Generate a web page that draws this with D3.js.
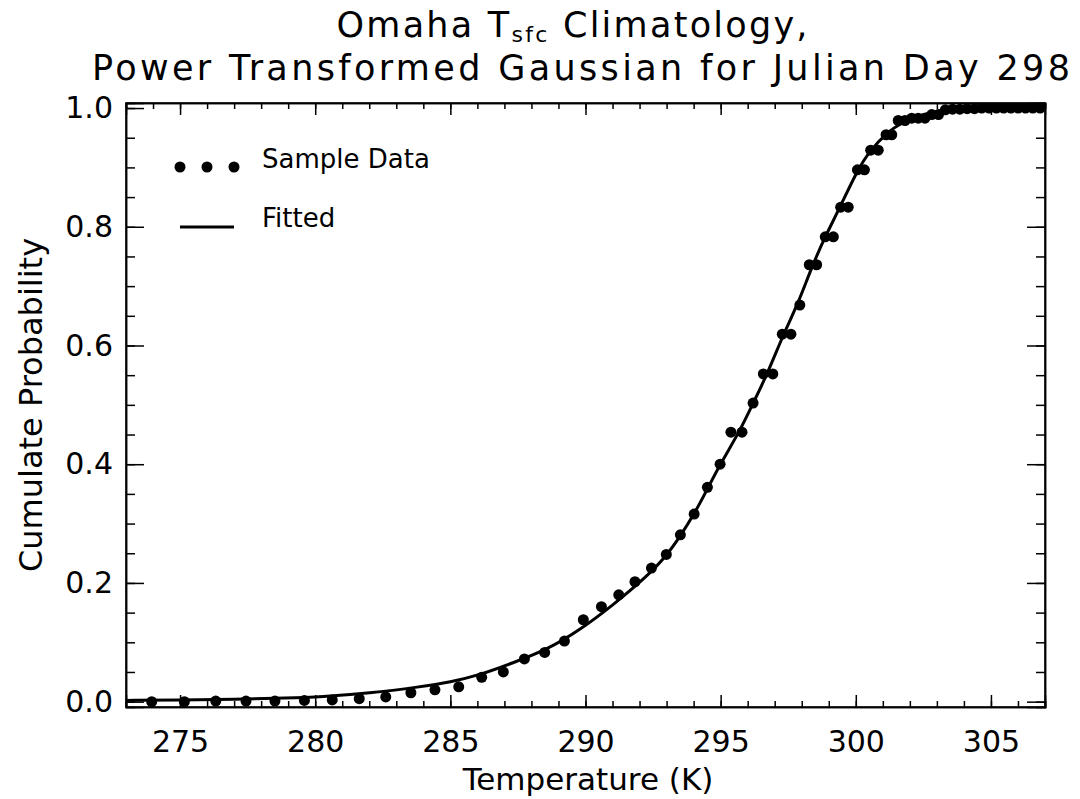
<!DOCTYPE html>
<html>
<head>
<meta charset="utf-8">
<script src="https://cdn.jsdelivr.net/npm/d3@7"></script>
<style>
  body { margin: 0; background: #fff; }
  svg { display: block; }
  text { font-family: "DejaVu Sans", sans-serif; fill: #000; }
  .tick line, .domain { stroke: #000; stroke-width: 1.5; }
</style>
</head>
<body>
<svg width="1080" height="799"></svg>
<script>
// sample data (temperature K, cumulative probability)
const sampleTemp = [273.95, 275.16, 276.32, 277.44, 278.51, 279.60, 280.63, 281.63, 282.61, 283.54,
  284.43, 285.31, 286.16, 286.96, 287.74, 288.49, 289.22, 289.92, 290.59, 291.23,
  291.83, 292.44, 292.99, 293.51, 294.02, 294.51, 294.98, 295.38, 295.79, 296.20,
  296.58, 296.93, 297.28, 297.60, 297.93, 298.28, 298.55, 298.87, 299.17, 299.44,
  299.72, 300.06, 300.32, 300.55, 300.83, 301.12, 301.33, 301.57, 301.82, 302.07,
  302.31, 302.56, 302.81, 303.06, 303.31, 303.58, 303.85, 304.12, 304.39, 304.66,
  304.93, 305.20, 305.47, 305.74, 306.01, 306.28, 306.55, 306.82];
const sampleProb = [0.000, 0.000, 0.001, 0.001, 0.001, 0.002, 0.003, 0.005, 0.008, 0.015,
  0.020, 0.025, 0.041, 0.050, 0.072, 0.083, 0.102, 0.138, 0.160, 0.180,
  0.202, 0.225, 0.248, 0.281, 0.316, 0.361, 0.400, 0.454, 0.454, 0.503,
  0.552, 0.552, 0.619, 0.619, 0.668, 0.736, 0.736, 0.783, 0.783, 0.833,
  0.833, 0.896, 0.896, 0.929, 0.929, 0.955, 0.955, 0.979, 0.979, 0.983,
  0.983, 0.983, 0.989, 0.989, 0.997, 0.998, 0.998, 0.999, 0.999, 1.000,
  1.000, 1.000, 1.000, 1.000, 1.000, 1.000, 1.000, 1.000];

// fitted curve
const fitTemp = [273.0, 275.0, 277.0, 279.0, 280.2, 282.0, 283.9, 285.0, 286.1, 287.3,
  288.6, 289.8, 291.0, 292.3, 293.0, 293.51, 294.02, 294.51, 294.98, 295.69,
  296.2, 296.73, 297.32, 297.84, 298.37, 298.86, 299.42, 300.03, 300.53, 301.2,
  301.64, 302.38, 303.12, 304.0, 305.0, 307.0];
const fitProb = [0.002, 0.003, 0.004, 0.006, 0.008, 0.014, 0.025, 0.033, 0.045, 0.065,
  0.088, 0.121, 0.162, 0.212, 0.246, 0.279, 0.316, 0.358, 0.400, 0.454,
  0.503, 0.552, 0.619, 0.668, 0.732, 0.783, 0.833, 0.893, 0.929, 0.960,
  0.974, 0.988, 0.996, 0.999, 1.000, 1.000];

const xMajor = [275, 280, 285, 290, 295, 300, 305];
const xMinor = d3.range(273, 308, 1);
const yMajor = [0.0, 0.2, 0.4, 0.6, 0.8, 1.0];
const yMinor = d3.range(0, 1.001, 0.05);

const svg = d3.select("svg");
const plotLeft = 126, plotRight = 1045, plotTop = 103, plotBottom = 707;
const width = plotRight - plotLeft, height = plotBottom - plotTop;

const x = d3.scaleLinear().domain([273, 307]).range([0, width]);
const y = d3.scaleLinear().domain([-0.009, 1.0085]).range([height, 0]);

svg.append("rect").attr("width", 1080).attr("height", 799).attr("fill", "#fff");

const g = svg.append("g").attr("transform", `translate(${plotLeft},${plotTop})`);

g.append("clipPath").attr("id", "clip")
  .append("rect").attr("width", width).attr("height", height);

// minor ticks on all four sides
g.append("g").attr("transform", `translate(0,${height})`)
  .call(d3.axisBottom(x).tickValues(xMinor).tickSize(-6).tickFormat(""));
g.append("g")
  .call(d3.axisTop(x).tickValues(xMinor).tickSize(-6).tickFormat(""));
g.append("g")
  .call(d3.axisLeft(y).tickValues(yMinor).tickSize(-9).tickFormat(""));
g.append("g").attr("transform", `translate(${width},0)`)
  .call(d3.axisRight(y).tickValues(yMinor).tickSize(-9).tickFormat(""));

// major ticks
g.append("g").attr("class", "x-axis").attr("transform", `translate(0,${height})`)
  .call(d3.axisBottom(x).tickValues(xMajor).tickSize(-12).tickPadding(24).tickFormat(d3.format("d")));
g.append("g")
  .call(d3.axisTop(x).tickValues(xMajor).tickSize(-12).tickFormat(""));
g.append("g").attr("class", "y-axis")
  .call(d3.axisLeft(y).tickValues(yMajor).tickSize(-18).tickPadding(13).tickFormat(d3.format(".1f")));
g.append("g").attr("transform", `translate(${width},0)`)
  .call(d3.axisRight(y).tickValues(yMajor).tickSize(-18).tickFormat(""));

g.selectAll(".x-axis text, .y-axis text")
  .style("font-size", "30px").style("font-family", "DejaVu Sans");

// frame
g.append("rect").attr("width", width).attr("height", height)
  .attr("fill", "none").attr("stroke", "#000").attr("stroke-width", 1.5);

const plot = g.append("g").attr("clip-path", "url(#clip)");

// Fitted curve
const fitPts = fitTemp.map((t, i) => [t, fitProb[i]]);
plot.append("path")
  .datum(fitPts)
  .attr("fill", "none")
  .attr("stroke", "#000")
  .attr("stroke-width", 3)
  .attr("d", d3.line().x(d => x(d[0])).y(d => y(d[1])).curve(d3.curveBasis));

// Sample points
plot.selectAll(".dot")
  .data(sampleTemp.map((t, i) => [t, sampleProb[i]]))
  .enter().append("circle")
  .attr("class", "dot")
  .attr("cx", d => x(d[0]))
  .attr("cy", d => y(d[1]))
  .attr("r", 5.5)
  .attr("fill", "#000");

// Legend
const legend = svg.append("g");
legend.selectAll("circle")
  .data([180, 207, 234])
  .enter().append("circle")
  .attr("cx", d => d).attr("cy", 167).attr("r", 5.5).attr("fill", "#000");
legend.append("text").attr("x", 262).attr("y", 168)
  .style("font-size", "26px").text("Sample Data");
legend.append("line").attr("x1", 180).attr("x2", 234).attr("y1", 227).attr("y2", 227)
  .attr("stroke", "#000").attr("stroke-width", 3);
legend.append("text").attr("x", 262).attr("y", 227)
  .style("font-size", "26px").text("Fitted");

// Title
const t1 = svg.append("text").attr("x", 572).attr("y", 37)
  .attr("text-anchor", "middle").style("font-size", "35px")
  .attr("textLength", 471).attr("lengthAdjust", "spacing");
t1.append("tspan").text("Omaha T");
t1.append("tspan").attr("dy", 5).style("font-size", "22px").text("sfc");
t1.append("tspan").attr("dy", -5).text(" Climatology,");

svg.append("text").attr("x", 581).attr("y", 80)
  .attr("text-anchor", "middle").style("font-size", "35px")
  .attr("textLength", 978).attr("lengthAdjust", "spacing")
  .text("Power Transformed Gaussian for Julian Day 298");

// Axis titles
svg.append("text").attr("x", 588).attr("y", 790)
  .attr("text-anchor", "middle").style("font-size", "31px")
  .text("Temperature (K)");

svg.append("text")
  .attr("transform", "translate(42,405) rotate(-90)")
  .attr("text-anchor", "middle").style("font-size", "32px")
  .text("Cumulate Probability");
</script>
</body>
</html>
